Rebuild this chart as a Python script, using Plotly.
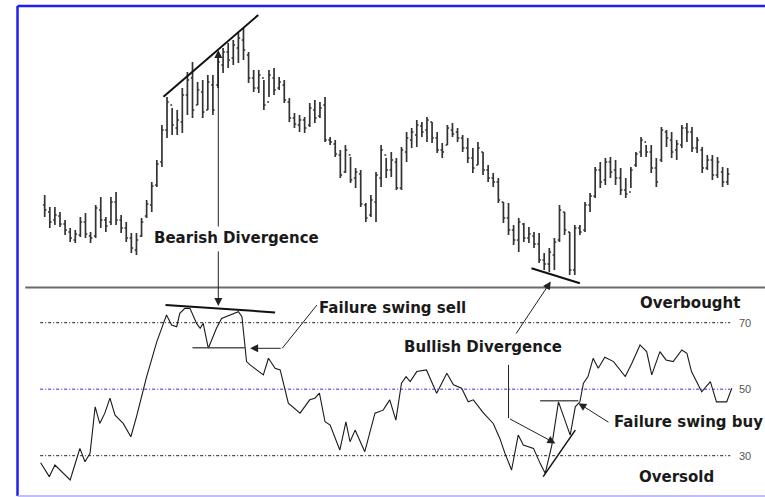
import plotly.graph_objects as go

# price bars (index, open, high, low, close)
bar_idx = list(range(135))
opens = [95, 88, 80, 84, 76, 68, 60, 65, 78, 64, 64, 90, 80, 78, 98, 80, 72, 62, 50, 64,
         84, 95, 115, 138, 170, 195, 172, 178, 205, 222, 195, 208, 190, 215, 215, 235, 248, 242, 252, 260,
         245, 222, 212, 222, 198, 222, 212, 215, 198, 182, 175, 180, 175, 190, 184, 195, 160, 156, 145, 128,
         145, 122, 126, 95, 85, 98, 122, 145, 130, 138, 112, 148, 160, 165, 174, 170, 178, 162, 150, 155,
         170, 168, 162, 152, 142, 135, 148, 130, 122, 118, 98, 82, 70, 60, 76, 62, 64, 56, 40, 36,
         45, 60, 88, 68, 30, 72, 70, 95, 104, 130, 120, 138, 130, 122, 110, 108, 135, 148, 158, 148,
         132, 140, 168, 160, 150, 155, 172, 168, 152, 150, 132, 140, 125, 128, 118]
highs = [105, 93, 93, 88, 80, 72, 70, 83, 87, 68, 95, 103, 83, 103, 108, 85, 78, 67, 67, 82,
         100, 118, 140, 175, 203, 192, 190, 212, 228, 238, 218, 220, 225, 225, 242, 252, 257, 260, 267, 272,
         248, 230, 230, 220, 230, 232, 223, 220, 202, 187, 185, 183, 197, 200, 198, 203, 163, 160, 150, 155,
         143, 132, 130, 97, 105, 128, 155, 142, 148, 142, 153, 168, 172, 180, 178, 183, 178, 168, 157, 175,
         177, 172, 165, 162, 152, 158, 148, 135, 127, 122, 98, 97, 75, 82, 77, 73, 68, 67, 47, 52,
         62, 95, 88, 68, 75, 75, 98, 107, 133, 138, 142, 143, 140, 132, 122, 133, 148, 163, 155, 155,
         142, 173, 170, 168, 160, 175, 177, 173, 163, 153, 145, 145, 143, 133, 132]
lows = [83, 72, 75, 73, 65, 58, 57, 63, 62, 57, 62, 72, 68, 75, 75, 67, 58, 47, 45, 63,
        82, 88, 113, 133, 162, 165, 165, 167, 185, 182, 195, 182, 190, 185, 212, 227, 232, 235, 237, 240,
        217, 208, 207, 190, 203, 205, 210, 197, 178, 172, 168, 167, 173, 177, 182, 158, 155, 143, 122, 127,
        117, 112, 93, 78, 83, 78, 113, 122, 123, 110, 110, 138, 152, 153, 163, 158, 157, 147, 142, 155,
        163, 158, 148, 137, 127, 135, 125, 118, 113, 97, 77, 65, 55, 48, 58, 57, 52, 37, 30, 28,
        30, 58, 65, 25, 25, 65, 68, 88, 102, 112, 115, 122, 115, 105, 102, 112, 133, 143, 143, 127,
        113, 138, 153, 142, 140, 152, 158, 148, 147, 127, 130, 120, 122, 113, 115]
closes = [90, 78, 85, 76, 70, 62, 66, 78, 66, 62, 92, 80, 74, 98, 80, 72, 62, 52, 60, 78,
          96, 114, 136, 170, 198, 175, 180, 205, 220, 190, 210, 188, 218, 190, 238, 248, 240, 255, 262, 250,
          222, 212, 225, 195, 225, 210, 218, 200, 182, 176, 180, 172, 192, 182, 192, 160, 158, 146, 125, 150,
          120, 128, 96, 82, 100, 125, 150, 130, 140, 112, 150, 162, 168, 175, 168, 180, 162, 150, 148, 172,
          166, 162, 152, 142, 132, 152, 130, 122, 118, 100, 82, 70, 60, 78, 62, 66, 56, 40, 36, 48,
          58, 90, 70, 30, 72, 68, 95, 104, 130, 118, 138, 128, 122, 110, 106, 130, 146, 160, 148, 132,
          118, 170, 162, 148, 156, 172, 168, 152, 160, 132, 140, 125, 138, 118, 126]

# RSI polyline (bar position, value)
rsi_pos = [-0.8, 0.9, 2.0, 3.3, 5.0, 5.9, 6.9, 7.9, 8.9, 9.9, 10.8, 11.8, 12.8, 13.8, 15.4, 16.9, 18.0,
           20.0, 22.0, 23.3, 23.9, 24.9, 25.9, 26.5, 27.5, 28.5, 29.8, 30.5, 31.1, 32.1, 33.7, 34.7,
           36.4, 38.0, 38.7, 39.6, 40.3, 42.9, 43.9, 45.2, 46.2, 47.8, 50.1, 52.0, 53.0, 53.9, 55.0,
           56.0, 57.9, 59.1, 59.9, 60.9, 62.8, 64.8, 66.4, 67.7, 68.9, 70.0, 70.9, 71.7, 73.0, 74.9,
           76.9, 78.9, 80.2, 81.8, 83.1, 84.1, 86.1, 88.0, 89.3, 90.3, 91.6, 92.9, 93.9, 95.9, 97.2,
           98.2, 99.5, 100.8, 103.1, 104.1, 105.0, 105.7, 106.6, 107.6, 108.6, 109.9, 111.6, 113.9,
           115.2, 116.8, 118.1, 119.1, 120.7, 121.9, 123.3, 125.0, 126.0, 126.9, 128.9, 130.6, 131.8,
           133.8, 134.8]
rsi_val = [27.9, 23.7, 27.2, 25.2, 22.7, 27.2, 32.2, 28.2, 30.7, 44.7, 39.7, 42.8, 47.3, 42.2, 39.7,
           35.7, 41.7, 53.8, 64.3, 69.8, 72.3, 69.3, 68.8, 72.8, 74.3, 74.3, 69.8, 68.3, 69.8, 62.3,
           68.3, 71.3, 72.3, 73.3, 71.8, 58.3, 57.3, 54.3, 59.3, 56.3, 55.8, 45.8, 42.8, 46.8, 47.3,
           48.8, 40.2, 39.2, 31.7, 40.2, 34.2, 37.7, 31.2, 42.8, 43.7, 46.8, 40.7, 51.8, 53.8, 52.3,
           55.3, 55.8, 48.8, 54.8, 51.3, 50.3, 46.2, 46.8, 42.8, 39.7, 35.2, 30.7, 25.7, 36.2, 33.2,
           32.2, 27.7, 24.7, 33.2, 46.2, 36.2, 44.7, 46.2, 51.8, 53.8, 59.3, 56.3, 59.6, 58.3, 53.8,
           57.8, 63.3, 61.3, 54.3, 61.3, 58.8, 58.3, 61.8, 60.8, 55.3, 49.2, 52.3, 46.2, 46.2, 50.3]

levels = [70, 50, 30]
level_colors = ["#222222", "#2a2ae0", "#222222"]

ink = "#222222"
lab_font = dict(family="DejaVu Sans", size=15, color="#1a1a1a", weight="bold")

fig = go.Figure()
fig.add_trace(go.Ohlc(x=bar_idx, open=opens, high=highs, low=lows, close=closes,
                      increasing_line_color="#333333", decreasing_line_color="#333333",
                      line_width=1.7, tickwidth=0.35, hoverinfo="skip"))
fig.add_trace(go.Scatter(x=rsi_pos, y=rsi_val, mode="lines", yaxis="y2",
                         line=dict(color="#1a1a1a", width=1.1), hoverinfo="skip"))

shapes = []
# frame
shapes.append(dict(type="line", xref="paper", yref="paper", x0=0.0229, x1=0.0229, y0=0.002, y1=0.988,
                   line=dict(color="#1f1ff5", width=2.5)))
shapes.append(dict(type="line", xref="paper", yref="paper", x0=0.0229, x1=1.01, y0=0.988, y1=0.988,
                   line=dict(color="#1f1ff5", width=2.5)))
shapes.append(dict(type="line", xref="paper", yref="paper", x0=0.0229, x1=1.01, y0=0.002, y1=0.002,
                   line=dict(color="#a8a8ff", width=1.5)))
# panel separator
shapes.append(dict(type="line", xref="paper", yref="y", x0=0.033, x1=1.01, y0=12.5, y1=12.5,
                   line=dict(color="#6a6a6a", width=2)))
# RSI reference levels
for lv, col in zip(levels, level_colors):
    shapes.append(dict(type="line", xref="x", yref="y2", x0=-0.9, x1=134.5, y0=lv, y1=lv,
                       line=dict(color=col, width=1, dash="3px,2px,1px,2px")))
# trend lines
shapes.append(dict(type="line", xref="x", yref="y", x0=23.3, y0=203.3, x1=41.9, y1=285,
                   line=dict(color="#111", width=2)))
shapes.append(dict(type="line", xref="x", yref="y2", x0=23.7, y0=75.3, x1=45.2, y1=73.1,
                   line=dict(color="#111", width=2)))
shapes.append(dict(type="line", xref="x", yref="y", x0=95.5, y0=31.7, x1=105.0, y1=16.7,
                   line=dict(color="#111", width=2)))
shapes.append(dict(type="line", xref="x", yref="y2", x0=97.8, y0=23.7, x1=104.1, y1=37.7,
                   line=dict(color="#111", width=1.5)))
# failure swing levels
shapes.append(dict(type="line", xref="x", yref="y2", x0=29.0, y0=62.5, x1=39.3, y1=62.5,
                   line=dict(color="#555", width=1.5)))
shapes.append(dict(type="line", xref="x", yref="y2", x0=97.2, y0=46.5, x1=104.7, y1=46.5,
                   line=dict(color="#555", width=1.5)))
# bent arrow bodies
shapes.append(dict(type="path", xref="x", yref="y2", path="M 53.4,75.3 L 46.6,62.3",
                   line=dict(color=ink, width=1)))
shapes.append(dict(type="path", xref="x", yref="y2", path="M 91.0,57.3 L 91.0,41.3",
                   line=dict(color=ink, width=1)))

arrow = dict(showarrow=True, arrowhead=2, arrowsize=1.6, arrowwidth=1, arrowcolor=ink,
             text="", standoff=0, startstandoff=0)
annots = [
    dict(x=34.06, y=250, ax=34.06, ay=72, xref="x", yref="y", axref="x", ayref="y", **arrow),
    dict(x=34.06, y=75.0, ax=34.06, ay=91.9, xref="x", yref="y2", axref="x", ayref="y2", **arrow),
    dict(x=40.3, y=62.3, ax=46.6, ay=62.3, xref="x", yref="y2", axref="x", ayref="y2", **arrow),
    dict(x=100.2, y=33.7, ax=91.0, ay=41.3, xref="x", yref="y2", axref="x", ayref="y2", **arrow),
    dict(x=99.3, y=82.4, ax=92.3, ay=66.3, xref="x", yref="y2", axref="x", ayref="y2", **arrow),
    dict(x=104.7, y=45.8, ax=110.9, ay=39.8, xref="x", yref="y2", axref="x", ayref="y2", **arrow),
]
texts = [
    ("Bearish Divergence", 21.3, 62, "y"),
    ("Failure swing sell", 53.6, 74.3, "y2"),
    ("Bullish Divergence", 70.3, 62.7, "y2"),
    ("Failure swing buy", 111.5, 40.2, "y2"),
    ("Overbought", 116.6, 76.0, "y2"),
    ("Oversold", 116.4, 23.7, "y2"),
]
for t, x, y, yr in texts:
    annots.append(dict(text=t, x=x, y=y, xref="x", yref=yr, xanchor="left", yanchor="middle",
                       showarrow=False, font=lab_font, bgcolor="white", borderpad=0))
for lv in levels:
    annots.append(dict(text=str(lv), x=135.8, y=lv, xref="x", yref="y2", xanchor="left",
                       yanchor="middle", showarrow=False,
                       font=dict(family="Liberation Sans", size=11, color="#555")))

fig.update_layout(
    width=765, height=497, margin=dict(l=0, r=0, t=0, b=0),
    paper_bgcolor="white", plot_bgcolor="white", showlegend=False,
    xaxis=dict(range=[-8.77, 141.32], visible=False, rangeslider=dict(visible=False)),
    yaxis=dict(range=[-197, 300], visible=False),
    yaxis2=dict(range=[17.58, 167.05], visible=False, overlaying="y"),
    shapes=shapes, annotations=annots,
)

# the page's default 8px body margin would shift the figure
fig.write_html("out.html", config={"displayModeBar": False},
               post_script="document.body.style.margin='0';document.body.style.overflow='hidden';")
